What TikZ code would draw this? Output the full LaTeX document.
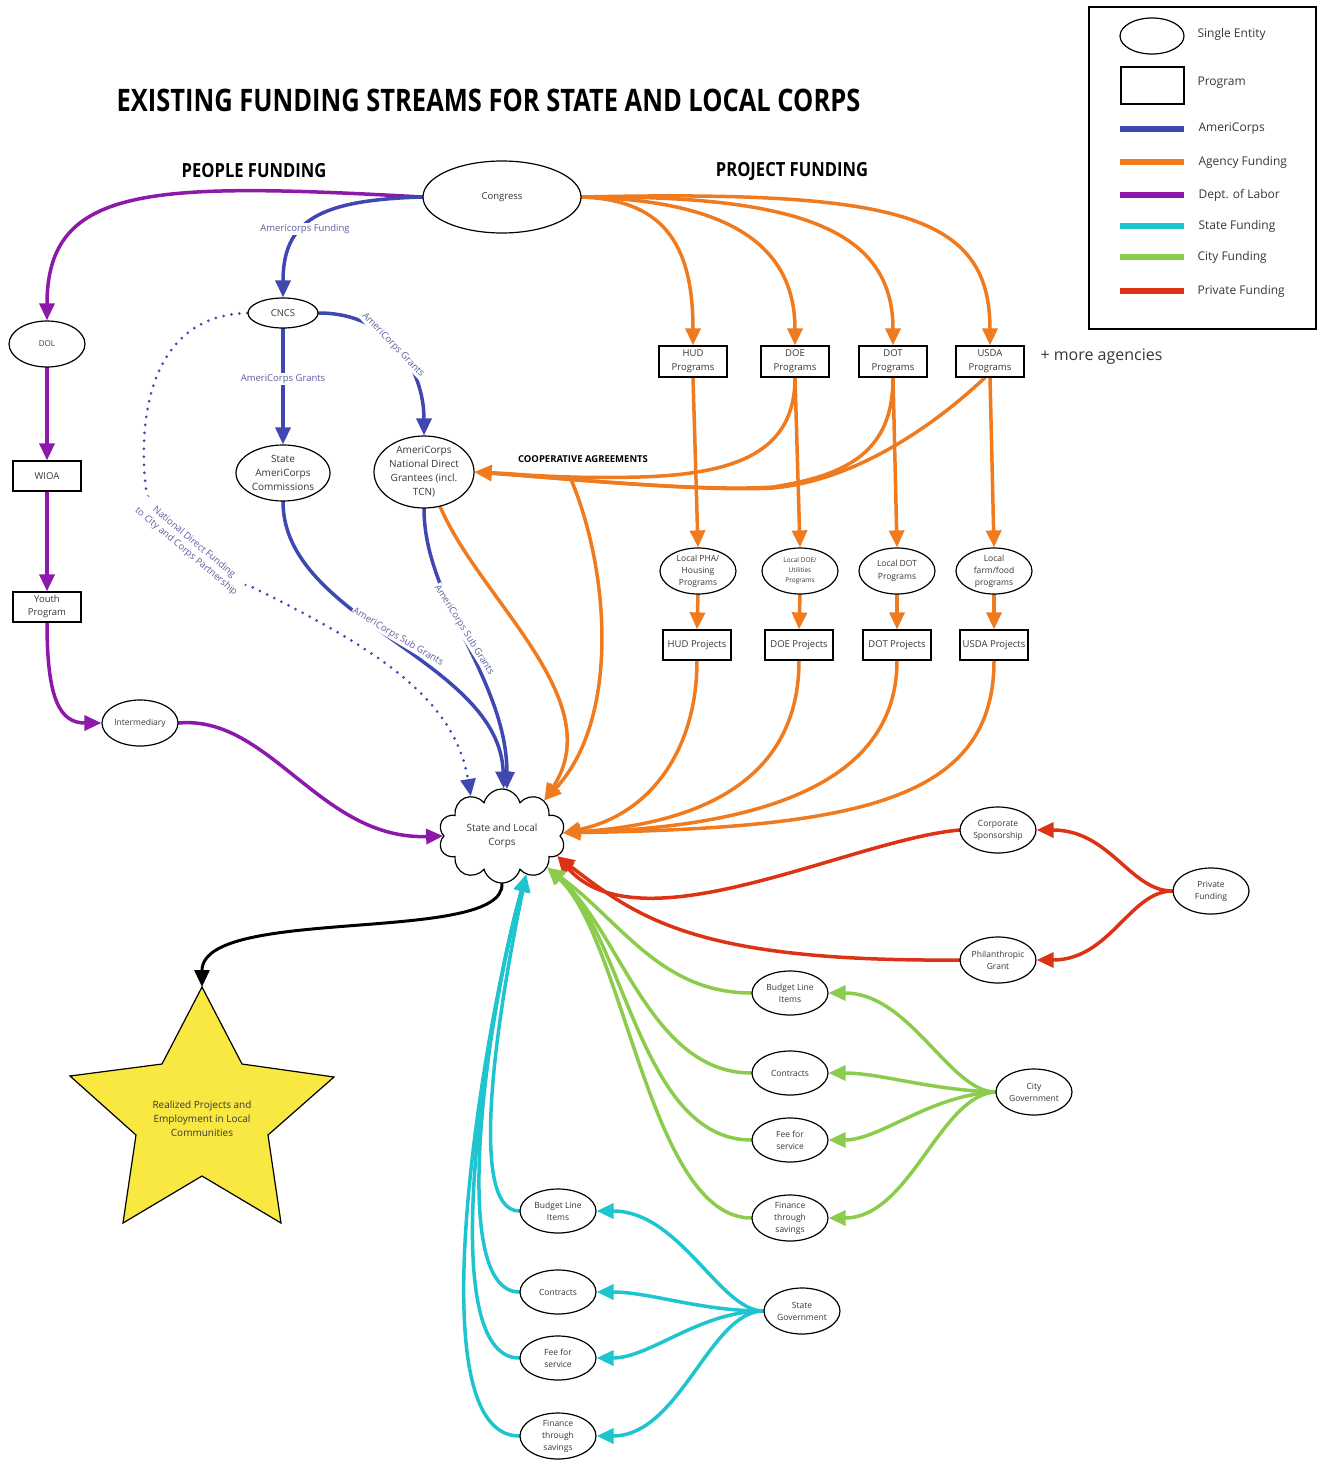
\documentclass[tikz,border=0pt]{standalone}
\usepackage{fontspec}
\setmainfont{Open Sans}
\usetikzlibrary{shapes.geometric,shapes.symbols,arrows.meta}
\pgfdeclarelayer{bg}
\pgfsetlayers{bg,main}
\definecolor{acblue}{RGB}{63,72,176}
\definecolor{agor}{RGB}{240,122,30}
\definecolor{dolp}{RGB}{140,25,170}
\definecolor{stcy}{RGB}{30,196,206}
\definecolor{cigr}{RGB}{140,204,76}
\definecolor{prred}{RGB}{222,50,20}
\definecolor{lbl}{RGB}{95,95,160}
\definecolor{txt}{RGB}{55,55,55}
\definecolor{staryel}{RGB}{250,232,66}
\newcommand{\fsz}[2]{\fontsize{#1}{#2}\selectfont}
\begin{document}
\begin{tikzpicture}[x=1pt,y=-1pt,
  ent/.style={ellipse, draw=black, line width=1.2pt, fill=white, inner sep=0pt, text=txt, align=center},
  prog/.style={rectangle, draw=black, line width=1.2pt, fill=white, inner sep=0pt, text=txt, align=center},
  flow/.style={line width=3.5pt, line cap=round, -{Triangle[length=17pt,width=15pt]}},
  elbl/.style={fill=white, text=lbl, inner sep=1pt, font=\fsz{9.5}{11.5}, align=center},
  hdr/.style={font=\bfseries, text=black},
  lgtxt/.style={anchor=west, text=txt, font=\fsz{12}{14}}
]
\useasboundingbox (0,0) rectangle (1317,1463);

% ---------- titles ----------
\node[hdr] (title) at (488.5,100) {\scalebox{0.822}[1]{\fsz{31}{36}EXISTING FUNDING STREAMS FOR STATE AND LOCAL CORPS}};
\node[hdr] (people) at (254,171) {\scalebox{0.85}[1]{\fsz{19.5}{22}PEOPLE FUNDING}};
\node[hdr] (project) at (792,171) {\scalebox{0.85}[1]{\fsz{19.5}{22}PROJECT FUNDING}};

% ---------- legend ----------
\node[draw=black, line width=1.2pt, minimum width=227pt, minimum height=322pt, inner sep=0pt] (legend) at (1202.5,168) {};
\node[ent, minimum width=64pt, minimum height=36pt] (lgent) at (1152,36) {};
\node[prog, minimum width=63pt, minimum height=37pt] (lgprog) at (1152.5,85.5) {};
\node[lgtxt] (lg1) at (1194,34) {Single Entity};
\node[lgtxt] (lg2) at (1194,83) {Program};
\node[lgtxt] (lg3) at (1195,129) {AmeriCorps};
\node[lgtxt] (lg4) at (1195,162) {Agency Funding};
\node[lgtxt] (lg5) at (1195,195) {Dept. of Labor};
\node[lgtxt] (lg6) at (1195,226) {State Funding};
\node[lgtxt] (lg7) at (1194,257) {City Funding};
\node[lgtxt] (lg8) at (1194,291) {Private Funding};
\draw[line width=6pt, acblue] (1120,129) -- (1184,129);
\draw[line width=6pt, agor] (1120,162) -- (1184,162);
\draw[line width=6pt, dolp] (1120,195) -- (1184,195);
\draw[line width=6pt, stcy] (1120,226) -- (1184,226);
\draw[line width=6pt, cigr] (1120,257) -- (1184,257);
\draw[line width=6pt, prred] (1120,291) -- (1184,291);

% ---------- nodes ----------
\node[ent, minimum width=158pt, minimum height=72pt, font=\fsz{9.5}{12}] (cong) at (502,197) {Congress};
\node[ent, minimum width=76pt, minimum height=46pt, font=\fsz{8}{10}] (dol) at (47,344) {DOL};
\node[prog, minimum width=68pt, minimum height=30pt, font=\fsz{9.5}{12}] (wioa) at (47,476) {WIOA};
\node[prog, minimum width=68pt, minimum height=30pt, font=\fsz{9.5}{13}] (youth) at (47,607) {Youth\\Program};
\node[ent, minimum width=76pt, minimum height=46pt, font=\fsz{8.5}{11}] (inter) at (140,723) {Intermediary};
\node[ent, minimum width=70pt, minimum height=30pt, font=\fsz{9.5}{12}] (cncs) at (283,313) {CNCS};
\node[ent, minimum width=94pt, minimum height=56pt, font=\fsz{10}{14}] (sac) at (283,473) {State\\AmeriCorps\\Commissions};
\node[ent, minimum width=100pt, minimum height=72pt, font=\fsz{10}{14}] (nd) at (424,472) {AmeriCorps\\National Direct\\Grantees (incl.\\TCN)};

\node[prog, minimum width=68pt, minimum height=31pt, font=\fsz{9.5}{14}] (hud) at (693,361.5) {HUD\\Programs};
\node[prog, minimum width=68pt, minimum height=31pt, font=\fsz{9.5}{14}] (doe) at (795,361.5) {DOE\\Programs};
\node[prog, minimum width=68pt, minimum height=31pt, font=\fsz{9.5}{14}] (dot) at (893,361.5) {DOT\\Programs};
\node[prog, minimum width=68pt, minimum height=31pt, font=\fsz{9.5}{14}] (usda) at (990,361.5) {USDA\\Programs};
\node[anchor=west, text=txt, font=\fsz{16}{19}] (more) at (1037,357) {+ more agencies};

\node[ent, minimum width=76pt, minimum height=46pt, font=\fsz{8.5}{12}] (lpha) at (698,571) {Local PHA/\\Housing\\Programs};
\node[ent, minimum width=76pt, minimum height=46pt, font=\fsz{6.5}{10}] (ldoe) at (800,571) {Local DOE/\\Utilities\\Programs};
\node[ent, minimum width=76pt, minimum height=46pt, font=\fsz{8.5}{12.5}] (ldot) at (897,571) {Local DOT\\Programs};
\node[ent, minimum width=76pt, minimum height=46pt, font=\fsz{8.5}{12}] (lfarm) at (994,571) {Local\\farm/food\\programs};

\node[prog, minimum width=68pt, minimum height=30pt, font=\fsz{9.5}{12}] (hudp) at (697,645) {HUD Projects};
\node[prog, minimum width=68pt, minimum height=30pt, font=\fsz{9.5}{12}] (doep) at (799,645) {DOE Projects};
\node[prog, minimum width=68pt, minimum height=30pt, font=\fsz{9.5}{12}] (dotp) at (897,645) {DOT Projects};
\node[prog, minimum width=68pt, minimum height=30pt, font=\fsz{9.5}{12}] (usdap) at (994,645) {USDA Projects};

\node[cloud, draw=black, line width=1.2pt, fill=white, cloud puffs=10, aspect=1.4, minimum width=127pt, minimum height=94pt, inner sep=0pt, text=txt, align=center, font=\fsz{10}{14}] (corps) at (502,836) {State and Local\\Corps};

\node[ent, minimum width=76pt, minimum height=46pt, font=\fsz{8.5}{12}] (corp) at (998,830) {Corporate\\Sponsorship};
\node[ent, minimum width=76pt, minimum height=46pt, font=\fsz{8.5}{12}] (phil) at (998,960) {Philanthropic\\Grant};
\node[ent, minimum width=76pt, minimum height=46pt, font=\fsz{8.5}{12}] (priv) at (1211,891) {Private\\Funding};

\node[ent, minimum width=76pt, minimum height=44pt, font=\fsz{8.5}{12}] (cbud) at (790,993) {Budget Line\\Items};
\node[ent, minimum width=76pt, minimum height=44pt, font=\fsz{8.5}{12}] (ccon) at (790,1073) {Contracts};
\node[ent, minimum width=76pt, minimum height=44pt, font=\fsz{8.5}{12}] (cfee) at (790,1140) {Fee for\\service};
\node[ent, minimum width=76pt, minimum height=46pt, font=\fsz{8.5}{12}] (cfin) at (790,1218) {Finance\\through\\savings};
\node[ent, minimum width=76pt, minimum height=46pt, font=\fsz{8.5}{12}] (city) at (1034,1092) {City\\Government};

\node[ent, minimum width=76pt, minimum height=44pt, font=\fsz{8.5}{12}] (sbud) at (558,1211) {Budget Line\\Items};
\node[ent, minimum width=76pt, minimum height=44pt, font=\fsz{8.5}{12}] (scon) at (558,1292) {Contracts};
\node[ent, minimum width=76pt, minimum height=44pt, font=\fsz{8.5}{12}] (sfee) at (558,1358) {Fee for\\service};
\node[ent, minimum width=76pt, minimum height=46pt, font=\fsz{8.5}{12}] (sfin) at (558,1436) {Finance\\through\\savings};
\node[ent, minimum width=76pt, minimum height=46pt, font=\fsz{8.5}{12}] (state) at (802,1311) {State\\Government};

% star
\draw[line width=1.2pt, fill=staryel] (202,987) -- (242,1064) -- (334,1077) -- (268,1135) -- (281,1223) -- (202,1176) -- (123,1223) -- (136,1135) -- (70,1076) -- (162,1064) -- cycle;
\coordinate (startop) at (202,987);
\node[text=txt, align=center, font=\fsz{10}{14}] (startxt) at (202,1119) {Realized Projects and\\Employment in Local\\Communities};

\coordinate (coopsplit) at (570,477);

% ---------- connectors ----------
\begin{pgfonlayer}{bg}
% Dept. of Labor
\draw[flow, dolp] (cong.west) .. controls (150,182) and (47,185) .. (dol.north);
\draw[flow, dolp] (dol.south) -- (wioa.north);
\draw[flow, dolp] (wioa.south) -- (youth.north);
\draw[flow, dolp] (youth.south) .. controls (47,700) and (60,723) .. (inter.west);
\draw[flow, dolp] (inter.east) .. controls (270,715) and (320,840) .. (corps.180);

% AmeriCorps
\draw[flow, acblue] (cong.west) .. controls (320,200) and (283,220) .. (cncs.north);
\draw[flow, acblue] (cncs.south) -- (sac.north);
\draw[flow, acblue] (cncs.east) .. controls (390,313) and (424,370) .. (nd.north);
\draw[flow, acblue] (sac.south) .. controls (283,620) and (500,660) .. (corps.88);
\draw[flow, acblue] (nd.south) .. controls (424,600) and (507,680) .. (corps.84);
\draw[flow, acblue, line width=3pt, dash pattern=on 0pt off 8pt] (cncs.west) .. controls (160,315) and (138,400) .. (145,480) .. controls (148,530) and (200,570) .. (252,587) .. controls (380,650) and (455,700) .. (corps.128);

% Agency funding
\draw[flow, agor] (cong.east) .. controls (660,200) and (693,240) .. (hud.north);
\draw[flow, agor] (cong.east) .. controls (720,200) and (795,240) .. (doe.north);
\draw[flow, agor] (cong.east) .. controls (800,195) and (893,230) .. (dot.north);
\draw[flow, agor] (cong.east) .. controls (900,190) and (990,215) .. (usda.north);
\draw[flow, agor] (hud.south) -- (lpha.north);
\draw[flow, agor] (doe.south) -- (ldoe.north);
\draw[flow, agor] (dot.south) -- (ldot.north);
\draw[flow, agor] (usda.south) -- (lfarm.north);
\draw[flow, agor] (lpha.south) -- (hudp.north);
\draw[flow, agor] (ldoe.south) -- (doep.north);
\draw[flow, agor] (ldot.south) -- (dotp.north);
\draw[flow, agor] (lfarm.south) -- (usdap.north);
\draw[flow, agor] (hudp.south) .. controls (697,750) and (650,815) .. (corps.3);
\draw[flow, agor] (doep.south) .. controls (799,760) and (730,822) .. (corps.3);
\draw[flow, agor] (dotp.south) .. controls (897,770) and (790,826) .. (corps.3);
\draw[flow, agor] (usdap.south) .. controls (994,800) and (860,828) .. (corps.3);
\draw[flow, agor] (doe.south) .. controls (795,450) and (740,474) .. (640,477) .. controls (560,479) and (520,474) .. (nd.east);
\draw[flow, agor] (dot.south) .. controls (893,450) and (850,475) .. (773,487) .. controls (700,492) and (560,478) .. (nd.east);
\draw[flow, agor] ([xshift=-5pt]usda.south) .. controls (940,420) and (860,480) .. (773,488) .. controls (700,492) and (560,478) .. (nd.east);
\draw[flow, agor] (coopsplit) .. controls (610,570) and (620,720) .. (corps.40);
\draw[flow, agor] (nd.-65) .. controls (480,600) and (610,700) .. (corps.40);

% Private funding
\draw[flow, prred] (priv.west) .. controls (1130,891) and (1110,830) .. (corp.east);
\draw[flow, prred] (priv.west) .. controls (1130,891) and (1110,960) .. (phil.east);
\draw[flow, prred] (corp.west) .. controls (850,840) and (640,950) .. (corps.-20);
\draw[flow, prred] (phil.west) .. controls (700,962) and (640,920) .. (corps.-20);

% City funding
\draw[flow, cigr] (city.west) .. controls (950,1092) and (910,993) .. (cbud.east);
\draw[flow, cigr] (city.west) .. controls (930,1090) and (880,1073) .. (ccon.east);
\draw[flow, cigr] (city.west) .. controls (930,1095) and (880,1140) .. (cfee.east);
\draw[flow, cigr] (city.west) .. controls (940,1095) and (910,1218) .. (cfin.east);
\draw[flow, cigr] (cbud.west) .. controls (660,993) and (620,920) .. (corps.-35);
\draw[flow, cigr] (ccon.west) .. controls (650,1073) and (620,930) .. (corps.-35);
\draw[flow, cigr] (cfee.west) .. controls (640,1140) and (625,935) .. (corps.-35);
\draw[flow, cigr] (cfin.west) .. controls (650,1218) and (625,940) .. (corps.-35);

% State funding
\draw[flow, stcy] (state.west) .. controls (720,1311) and (680,1211) .. (sbud.east);
\draw[flow, stcy] (state.west) .. controls (700,1311) and (650,1292) .. (scon.east);
\draw[flow, stcy] (state.west) .. controls (700,1311) and (650,1358) .. (sfee.east);
\draw[flow, stcy] (state.west) .. controls (710,1311) and (680,1436) .. (sfin.east);
\draw[flow, stcy] (sbud.west) .. controls (465,1211) and (500,1000) .. (corps.-58);
\draw[flow, stcy] (scon.west) .. controls (445,1292) and (490,1000) .. (corps.-58);
\draw[flow, stcy] (sfee.west) .. controls (430,1358) and (490,1000) .. (corps.-58);
\draw[flow, stcy] (sfin.west) .. controls (410,1436) and (490,1000) .. (corps.-58);

% outcome
\draw[flow, black, line width=3pt] (corps.south) .. controls (505,945) and (202,905) .. (startop);
\end{pgfonlayer}

% ---------- connector labels ----------
\node[elbl] (l1) at (305,229) {Americorps Funding};
\node[elbl] (l2) at (283,379) {AmeriCorps Grants};
\node[elbl, rotate=-46] (l3) at (393,345) {AmeriCorps Grants};
\node[elbl, rotate=-31] (l4) at (398,637) {AmeriCorps Sub Grants};
\node[elbl, rotate=-58] (l5) at (464,630) {AmeriCorps Sub Grants};
\node[elbl, rotate=-40, font=\fsz{9.5}{12}] (l6) at (190,547) {National Direct Funding\\to City and Corps Partnership};
\node[font=\bfseries\fsz{9.5}{11}, text=black] (coop) at (583,459) {COOPERATIVE AGREEMENTS};
\end{tikzpicture}
\end{document}
